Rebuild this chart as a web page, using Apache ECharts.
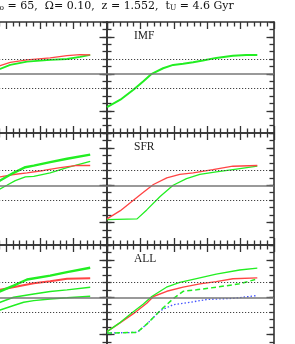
<!DOCTYPE html>
<html><head><meta charset="utf-8">
<script src="https://cdn.jsdelivr.net/npm/echarts@6/dist/echarts.min.js"></script>
<style>html,body{margin:0;padding:0;background:#fff}#c{width:295px;height:344px}</style>
</head><body><div id="c"></div>
<script>
// ---- axis data ----
const xLimits = [0, 5];
const xMajorStep = 1;
const yLimits = [-0.8, 0.7];
const yMinorStep = 0.1;
const yMajorLimits = [-0.5, 0.5];
const yMajorStep = 0.5;
const refSolid = [0];
const refDotted = [-0.2, 0.2];
const panelLabels = ['', 'IMF', '', 'SFR', '', 'ALL'];

// ---- panel 0: row 1, left ----
const p0GreenX = [0, 0.5, 1.0, 1.5, 1.82, 2.12, 2.62, 3.31, 3.81, 4.2, 4.5];
const p0Green  = [-0.45, -0.3, -0.1, 0.02, 0.067, 0.12, 0.165, 0.188, 0.2, 0.23, 0.255];
const p0RedX   = [0, 0.5, 1.0, 1.5, 1.82, 2.12, 2.62, 3.31, 3.81, 4.2, 4.5];
const p0Red    = [-0.45, -0.25, -0.05, 0.07, 0.11, 0.155, 0.188, 0.215, 0.245, 0.26, 0.255];

// ---- panel 1: row 1, right (IMF) ----
const p1GreenX = [0, 0.4, 0.79, 1.09, 1.34, 1.68, 1.98, 2.28, 2.58, 2.87, 3.27, 3.77, 4.17, 4.5];
const p1Green  = [-0.45, -0.35, -0.215, -0.10, 0.0, 0.075, 0.12, 0.135, 0.155, 0.18, 0.215, 0.245, 0.255, 0.255];

// ---- panel 2: row 2, left ----
const p2ThickX = [0, 0.5, 1.0, 1.5, 1.82, 2.22, 2.57, 2.82, 3.31, 3.81, 4.5];
const p2Thick  = [-0.45, -0.3, -0.15, -0.02, 0.063, 0.167, 0.242, 0.264, 0.31, 0.355, 0.41];
const p2RedX   = [0, 0.5, 1.0, 1.5, 1.82, 2.22, 2.62, 3.11, 3.61, 4.11, 4.5];
const p2Red    = [-0.45, -0.3, -0.08, 0.05, 0.113, 0.144, 0.167, 0.198, 0.235, 0.265, 0.265];
const p2ThinX  = [0, 0.8, 1.2, 1.5, 1.82, 2.02, 2.27, 2.57, 2.82, 3.31, 3.81, 4.5];
const p2Thin   = [-0.46, -0.45, -0.3, -0.15, -0.048, 0.0, 0.063, 0.113, 0.12, 0.167, 0.235, 0.32];

// ---- panel 3: row 2, right (SFR) ----
const p3RedX   = [0, 0.4, 0.79, 1.09, 1.39, 1.79, 2.18, 2.58, 3.17, 3.77, 4.5];
const p3Red    = [-0.45, -0.34, -0.2, -0.095, 0.01, 0.1, 0.145, 0.167, 0.21, 0.255, 0.265];
const p3GreenX = [0, 0.9, 1.19, 1.59, 1.98, 2.38, 2.78, 3.27, 3.77, 4.5];
const p3Green  = [-0.46, -0.45, -0.33, -0.15, 0.0, 0.09, 0.145, 0.18, 0.21, 0.255];

// ---- panel 4: row 3, left ----
const p4ThickX = [0, 0.5, 1.0, 1.5, 1.82, 2.22, 2.62, 3.31, 3.81, 4.5];
const p4Thick  = [-0.46, -0.32, -0.15, -0.02, 0.08, 0.157, 0.238, 0.29, 0.336, 0.395];
const p4RedX   = [0, 0.5, 1.0, 1.5, 1.82, 2.32, 2.82, 3.31, 3.81, 4.5];
const p4Red    = [-0.46, -0.3, -0.1, 0.04, 0.1, 0.144, 0.188, 0.215, 0.247, 0.255];
const p4MidX   = [0, 0.9, 1.2, 1.5, 1.82, 2.22, 2.82, 3.31, 3.81, 4.5];
const p4Mid    = [-0.47, -0.46, -0.34, -0.17, -0.067, 0.0, 0.045, 0.077, 0.099, 0.135];
const p4LowX   = [0, 0.9, 1.2, 1.5, 1.82, 2.22, 2.52, 2.82, 3.31, 3.81, 4.5];
const p4Low    = [-0.48, -0.47, -0.38, -0.26, -0.17, -0.11, -0.067, -0.045, -0.022, -0.008, 0.013];

// ---- panel 5: row 3, right (ALL) ----
const p5GreenX  = [0, 0.4, 0.74, 1.09, 1.34, 1.78, 2.18, 2.68, 3.27, 3.97, 4.5];
const p5Green   = [-0.46, -0.336, -0.21, -0.09, 0.01, 0.135, 0.2, 0.25, 0.31, 0.365, 0.39];
const p5RedX    = [0, 0.4, 0.79, 1.19, 1.39, 1.79, 2.28, 2.78, 3.27, 3.77, 4.5];
const p5Red     = [-0.46, -0.34, -0.22, -0.08, 0.01, 0.08, 0.135, 0.18, 0.21, 0.248, 0.26];
const p5DashX   = [0, 0.9, 1.19, 1.59, 1.98, 2.28, 2.68, 3.27, 3.97, 4.5];
const p5Dash    = [-0.48, -0.47, -0.36, -0.18, -0.02, 0.08, 0.1, 0.135, 0.18, 0.245];
const p5BlueX   = [0, 0.9, 1.19, 1.59, 1.98, 2.48, 2.98, 3.77, 4.5];
const p5Blue    = [-0.48, -0.47, -0.36, -0.18, -0.1, -0.068, -0.03, -0.015, 0.023];

// ---- build ----
const GREEN = '#22ee22', RED = '#ff4444', BLUE = '#4455ff', AX = '#333';
const colLeft = [-61, 107], colWidth = [168, 167];
const rowTop = [22, 133, 245], rowHeight = [111, 112, 112];

const grids = [], xAxes = [], yAxes = [], series = [], graphics = [];
const mainX = [], mainY = [];
const span = yLimits[1] - yLimits[0];

function hiddenX(gridIndex) {
  xAxes.push({ type: 'value', gridIndex: gridIndex, show: false, min: xLimits[0], max: xLimits[1] });
}
function minorY(gridIndex, pos) {
  yAxes.push({
    type: 'value', gridIndex: gridIndex, position: pos, min: yLimits[0], max: yLimits[1], interval: yMinorStep,
    axisLine: { show: true, onZero: false, lineStyle: { color: AX, width: 1.6 } },
    axisTick: { show: true, inside: true, length: 4.5, lineStyle: { color: AX, width: 1.3 } },
    axisLabel: { show: false }, splitLine: { show: false }
  });
}
function majorY(gridIndex, pos) {
  yAxes.push({
    type: 'value', gridIndex: gridIndex, position: pos, min: yMajorLimits[0], max: yMajorLimits[1], interval: yMajorStep,
    axisLine: { show: false, onZero: false },
    axisTick: { show: true, inside: true, length: 7.5, lineStyle: { color: AX, width: 1.3 } },
    axisLabel: { show: false }, splitLine: { show: false }
  });
}

for (let i = 0; i < 6; i++) {
  const r = Math.floor(i / 2), c = i % 2;
  const rect = { left: colLeft[c], width: colWidth[c], top: rowTop[r], height: rowHeight[r], outerBoundsMode: 'none' };
  const pxPerUnit = rowHeight[r] / span;
  const majorRect = { left: colLeft[c], width: colWidth[c],
    top: rowTop[r] + (yLimits[1] - yMajorLimits[1]) * pxPerUnit,
    height: (yMajorLimits[1] - yMajorLimits[0]) * pxPerUnit, outerBoundsMode: 'none' };

  // main grid: both x axes + left minor y axis
  const gMain = grids.length;
  grids.push(Object.assign({}, rect));
  mainX.push(xAxes.length);
  ['bottom', 'top'].forEach(pos => xAxes.push({
    type: 'value', gridIndex: gMain, position: pos, min: xLimits[0], max: xLimits[1], interval: xMajorStep,
    axisLine: { show: true, onZero: false, lineStyle: { color: AX, width: 1.6 } },
    axisTick: { show: true, inside: true, length: 7, lineStyle: { color: AX, width: 1.3 } },
    minorTick: { show: true, splitNumber: 5, length: 4.5, lineStyle: { color: AX, width: 1.3 } },
    axisLabel: { show: false }, splitLine: { show: false }
  }));
  mainY.push(yAxes.length);
  minorY(gMain, 'left');

  // companion grid: right minor y axis
  const gR = grids.length;
  grids.push(Object.assign({}, rect));
  hiddenX(gR);
  minorY(gR, 'right');

  // companion grids: long (major) y ticks over [-0.5, 0.5]
  ['left', 'right'].forEach(pos => {
    const g = grids.length;
    grids.push(Object.assign({}, majorRect));
    hiddenX(g);
    majorY(g, pos);
  });

  // reference lines
  series.push({
    type: 'line', xAxisIndex: mainX[i], yAxisIndex: mainY[i], data: [], silent: true, z: 1,
    markLine: {
      symbol: 'none', silent: true, animation: false, label: { show: false },
      data: refSolid.map(v => ({ yAxis: v, lineStyle: { color: '#777', width: 1.6, type: 'solid' } }))
        .concat(refDotted.map(v => ({ yAxis: v, lineStyle: { color: '#444', width: 1.2, type: [1.2, 1.8] } })))
    }
  });
  if (panelLabels[i]) graphics.push({
    type: 'text', x: colLeft[c] + 27, y: rowTop[r] + 8,
    style: { text: panelLabels[i], font: '11.5px "Liberation Serif"', fill: '#222' }
  });
}

function curve(panel, xs, ys, color, width, type) {
  series.push({
    type: 'line', xAxisIndex: mainX[panel], yAxisIndex: mainY[panel], showSymbol: false, silent: true, z: 3,
    lineStyle: { color: color, width: width, type: type || 'solid' },
    data: xs.map((x, k) => [x, ys[k]])
  });
}
curve(0, p0GreenX, p0Green, GREEN, 1.8);
curve(0, p0RedX, p0Red, RED, 1.3);
curve(1, p1GreenX, p1Green, GREEN, 2);
curve(2, p2ThinX, p2Thin, GREEN, 1.3);
curve(2, p2RedX, p2Red, RED, 1.3);
curve(2, p2ThickX, p2Thick, GREEN, 2.4);
curve(3, p3GreenX, p3Green, GREEN, 1.3);
curve(3, p3RedX, p3Red, RED, 1.3);
curve(4, p4LowX, p4Low, GREEN, 1.5);
curve(4, p4MidX, p4Mid, GREEN, 1.5);
curve(4, p4RedX, p4Red, RED, 2);
curve(4, p4ThickX, p4Thick, GREEN, 2.4);
curve(5, p5BlueX, p5Blue, BLUE, 1.3, [1.5, 2]);
curve(5, p5DashX, p5Dash, GREEN, 1.5, [5, 3]);
curve(5, p5RedX, p5Red, RED, 1.4);
curve(5, p5GreenX, p5Green, GREEN, 1.3);

graphics.push({
  type: 'text', x: -10, y: 0,
  style: {
    text: '{n|H}{s|o}{n| = 65,  Ω= 0.10,  z = 1.552,  t}{s|U}{n| = 4.6 Gyr}',
    rich: {
      n: { font: '11px "DejaVu Serif"', fill: '#111', lineHeight: 12, verticalAlign: 'bottom' },
      s: { font: '7.5px "DejaVu Serif"', fill: '#111', lineHeight: 12, verticalAlign: 'bottom', padding: [3, 0, 0, 0] }
    }
  }
});

const chart = echarts.init(document.getElementById('c'), null, { renderer: 'canvas' });
chart.setOption({
  animation: false, backgroundColor: '#fff',
  grid: grids, xAxis: xAxes, yAxis: yAxes, series: series, graphic: graphics
});
</script></body></html>
